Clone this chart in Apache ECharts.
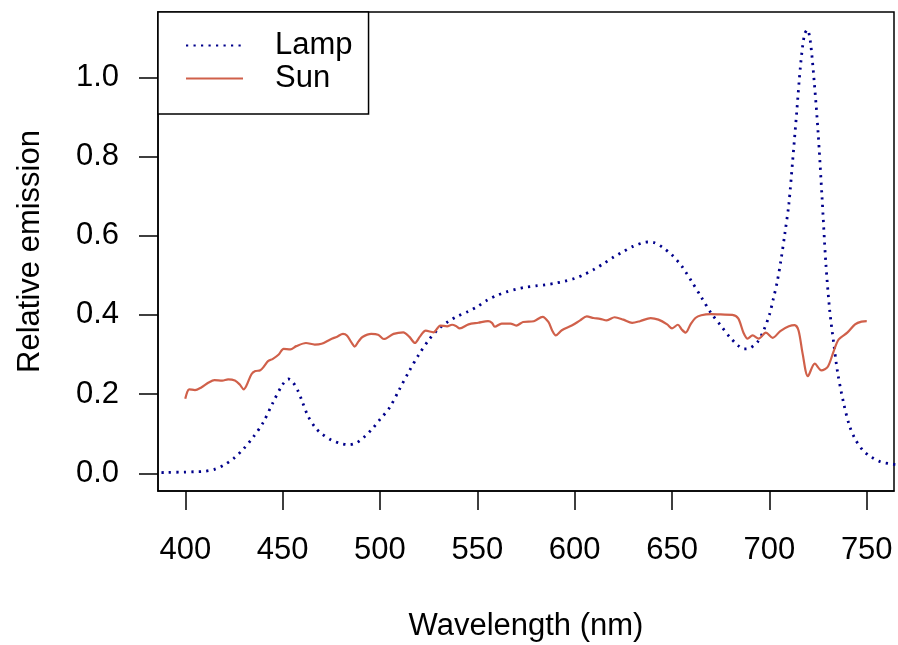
<!DOCTYPE html>
<html>
<head>
<meta charset="utf-8">
<script src="https://cdn.jsdelivr.net/npm/echarts@6/dist/echarts.min.js"></script>
<style>
  html, body { margin: 0; padding: 0; background: #fff; }
  #chart { width: 898px; height: 645px; }
</style>
</head>
<body>
<div id="chart"></div>
<script>
// wavelength (nm) and relative emission
const lampNm = [380, 390, 400, 405, 410, 415, 420, 425, 430, 435, 440, 445, 450, 453, 455, 458, 460, 463, 467, 470,
  475, 480, 484, 488, 492, 496, 500, 505, 510, 515, 520, 525, 530, 535, 540, 545, 550, 555, 560, 565,
  570, 575, 580, 585, 590, 595, 600, 605, 610, 615, 620, 625, 630, 635, 638, 641, 645, 650, 655, 660,
  665, 670, 675, 680, 684, 687, 690, 694, 697, 700, 702, 704, 706, 708, 710, 712, 714, 716, 718, 719.5,
  721, 723, 725, 727, 729, 731, 733, 735, 738, 741, 744, 748, 752, 757, 762, 766, 770]
const lampVal = [0.001, 0.002, 0.003, 0.004, 0.005, 0.010, 0.021, 0.038, 0.062, 0.092, 0.128, 0.178, 0.224, 0.238, 0.232, 0.207, 0.182, 0.145, 0.114, 0.100,
  0.084, 0.075, 0.072, 0.077, 0.092, 0.112, 0.136, 0.166, 0.212, 0.258, 0.300, 0.336, 0.364, 0.383, 0.397, 0.408, 0.421, 0.437, 0.449, 0.458,
  0.465, 0.470, 0.473, 0.476, 0.480, 0.485, 0.492, 0.502, 0.515, 0.530, 0.546, 0.560, 0.573, 0.582, 0.584, 0.582, 0.571, 0.551, 0.523, 0.485,
  0.445, 0.405, 0.373, 0.342, 0.322, 0.314, 0.316, 0.332, 0.360, 0.400, 0.440, 0.483, 0.540, 0.607, 0.680, 0.792, 0.910, 1.030, 1.108, 1.120,
  1.092, 0.990, 0.862, 0.700, 0.530, 0.410, 0.330, 0.256, 0.180, 0.122, 0.087, 0.058, 0.042, 0.029, 0.024, 0.021, 0.018]

const sunNm = [400, 401, 402, 405, 408, 412, 415, 419, 422, 425.5, 428, 430, 431.5, 434, 436, 438.5, 440.5, 442.5, 445, 448,
  450.5, 454, 457, 462, 466.5, 470, 474.5, 478, 481, 483, 485.5, 487, 489, 491, 495.5, 499, 502, 507, 512, 515,
  518, 520.5, 523.5, 527.5, 531, 534.5, 537, 539, 541, 545.5, 550.5, 555.5, 557.5, 559, 562.5, 567, 570, 573.5, 579, 583.5,
  586.5, 588.5, 590.3, 593.4, 598.5, 602.8, 606.2, 609.7, 613, 616.5, 620.5, 625, 629.5, 633.5, 639, 643, 647.5, 650, 653, 655,
  657, 659.5, 662, 665, 670, 675, 681, 684, 686.7, 688.8, 691.4, 694.5, 698.2, 701.7, 705.6, 710, 713, 715, 717, 719.8,
  723.3, 726.7, 730, 733, 735.6, 740, 744, 747.3, 750]
const sunVal = [0.188, 0.205, 0.212, 0.210, 0.216, 0.229, 0.235, 0.234, 0.237, 0.234, 0.224, 0.212, 0.222, 0.250, 0.258, 0.260, 0.270, 0.283, 0.289, 0.300,
  0.314, 0.313, 0.321, 0.329, 0.325, 0.327, 0.338, 0.345, 0.352, 0.348, 0.329, 0.320, 0.333, 0.344, 0.352, 0.350, 0.339, 0.352, 0.356, 0.345,
  0.329, 0.345, 0.360, 0.356, 0.373, 0.371, 0.375, 0.372, 0.366, 0.376, 0.380, 0.384, 0.380, 0.370, 0.378, 0.378, 0.373, 0.382, 0.384, 0.395,
  0.382, 0.360, 0.348, 0.361, 0.373, 0.386, 0.396, 0.392, 0.390, 0.386, 0.394, 0.388, 0.380, 0.384, 0.392, 0.388, 0.376, 0.366, 0.375, 0.363,
  0.355, 0.376, 0.392, 0.399, 0.402, 0.401, 0.400, 0.391, 0.355, 0.340, 0.348, 0.340, 0.355, 0.342, 0.359, 0.371, 0.374, 0.360, 0.304, 0.245,
  0.277, 0.260, 0.269, 0.308, 0.338, 0.355, 0.376, 0.383, 0.384]

const xTicks = [400, 450, 500, 550, 600, 650, 700, 750]
const yTicks = [0, 0.2, 0.4, 0.6, 0.8, 1.0]

const font = 'Liberation Sans, Arial, Helvetica, sans-serif'
const zip = (xs, ys) => xs.map((x, i) => [x, ys[i]])

const chart = echarts.init(document.getElementById('chart'))
const option = {
  animation: false,
  grid: {
    left: 158,
    right: 4,
    top: 12,
    bottom: 154,
    outerBoundsMode: 'none',
    show: true,
    borderColor: '#000',
    borderWidth: 1.5,
  },
  legend: {
    orient: 'vertical',
    left: 158,
    top: 12,
    padding: [17, 16, 19, 27],
    itemWidth: 57,
    itemHeight: 14,
    itemGap: 0,
    borderColor: '#000',
    borderWidth: 1.5,
    backgroundColor: '#fff',
    itemStyle: { opacity: 0 },
    textStyle: {
      fontFamily: font,
      fontSize: 31,
      color: '#000',
      lineHeight: 33,
      padding: [0, 0, 0, 27],
    },
    data: ['Lamp', 'Sun'],
  },
  xAxis: {
    type: 'value',
    min: 386,
    max: 764,
    name: 'Wavelength (nm)',
    nameLocation: 'middle',
    nameGap: 120,
    nameTextStyle: { fontFamily: font, fontSize: 31, color: '#000' },
    axisLine: { show: true, onZero: false, lineStyle: { color: '#000', width: 1.5 } },
    axisTick: { show: true, length: 19, lineStyle: { color: '#000', width: 1.5 }, customValues: xTicks },
    axisLabel: { fontFamily: font, fontSize: 31, color: '#000', margin: 44, customValues: xTicks },
    splitLine: { show: false },
  },
  yAxis: {
    type: 'value',
    min: -0.0448,
    max: 1.1648,
    name: 'Relative emission',
    nameLocation: 'middle',
    nameGap: 112,
    nameTextStyle: { fontFamily: font, fontSize: 31, color: '#000' },
    axisLine: { show: true, onZero: false, lineStyle: { color: '#000', width: 1.5 } },
    axisTick: { show: true, length: 19, lineStyle: { color: '#000', width: 1.5 }, customValues: yTicks },
    axisLabel: {
      fontFamily: font, fontSize: 31, color: '#000', margin: 39,
      customValues: yTicks,
      formatter: (v) => v.toFixed(1),
    },
    splitLine: { show: false },
  },
  series: [
    {
      name: 'Lamp',
      type: 'line',
      data: zip(lampNm, lampVal),
      symbol: 'none',
      smooth: 0.3,
      clip: true,
      color: '#00008B',
      lineStyle: { color: '#00008B', width: 2.8, type: [2.2, 5.3] },
    },
    {
      name: 'Sun',
      type: 'line',
      data: zip(sunNm, sunVal),
      symbol: 'none',
      smooth: 0.3,
      clip: true,
      color: '#D0604A',
      lineStyle: { color: '#D0604A', width: 2.2 },
    },
  ],
}
chart.setOption(option)
</script>
</body>
</html>
